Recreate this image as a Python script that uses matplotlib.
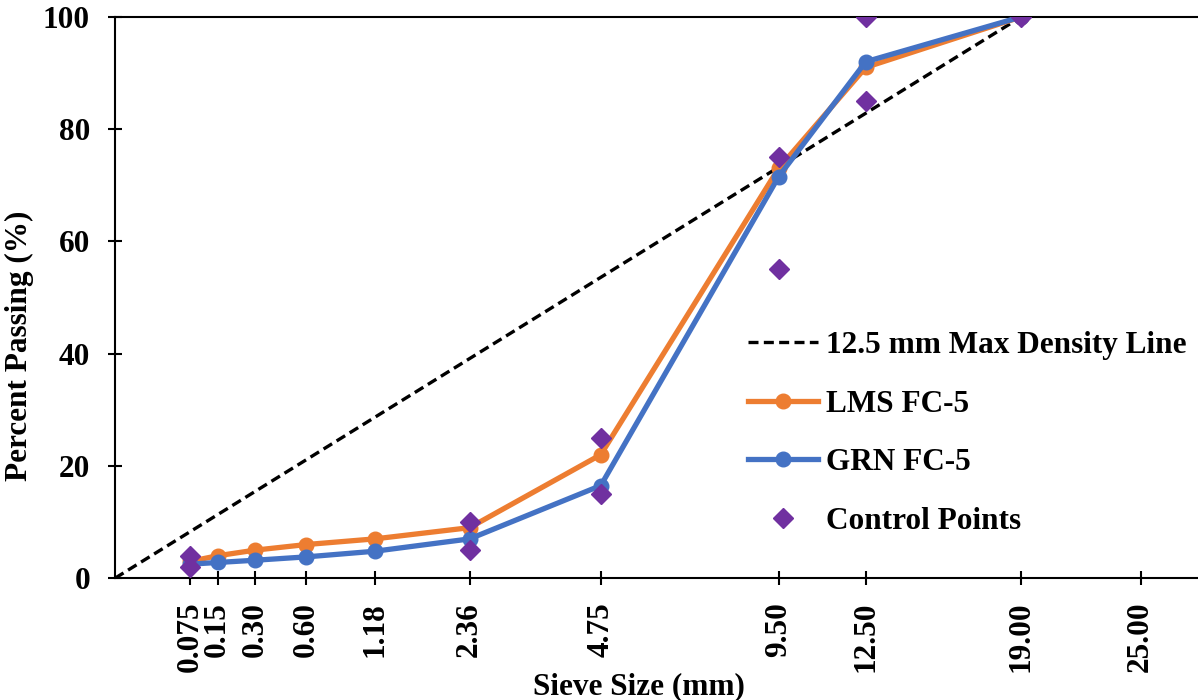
import numpy as np
import matplotlib.pyplot as plt

plt.rcParams['font.family'] = ['Liberation Serif', 'DejaVu Serif']
plt.rcParams['font.weight'] = 'bold'

# sieve sizes (mm) and gradation data
sieves = [0.075, 0.15, 0.30, 0.60, 1.18, 2.36, 4.75, 9.50, 12.50, 19.00]
tick_sieves = [0.075, 0.15, 0.30, 0.60, 1.18, 2.36, 4.75, 9.50, 12.50, 19.00, 25.00]
tick_labels = ["0.075", "0.15", "0.30", "0.60", "1.18", "2.36", "4.75",
               "9.50", "12.50", "19.00", "25.00"]

lms_fc5 = [3.0, 4.0, 5.0, 6.0, 7.0, 9.0, 22.0, 73.0, 91.0, 100.0]
grn_fc5 = [2.5, 2.8, 3.2, 3.8, 4.8, 7.0, 16.5, 71.5, 92.0, 100.0]

control_sieves = [0.075, 0.075, 2.36, 2.36, 4.75, 4.75, 9.50, 9.50, 12.50, 12.50, 19.00]
control_pass = [2, 4, 5, 10, 15, 25, 55, 75, 85, 100, 100]

max_density_sieves = [0.0, 19.00]
max_density_pass = [0, 100]

POWER = 0.45


def pw(v):
    return np.power(np.asarray(v, dtype=float), POWER)


fig = plt.figure(figsize=(11.98, 7.0), dpi=100)
ax = fig.add_axes([0.096, 0.174, 0.903, 0.802])

ax.plot(pw(max_density_sieves), max_density_pass, color='black', ls=(0, (3, 1.6)),
        lw=2.4, label='12.5 mm Max Density Line', zorder=2)
ax.plot(pw(sieves), lms_fc5, color='#ED7D31', lw=3.8, marker='o', ms=10.5,
        label='LMS FC-5', zorder=3)
ax.plot(pw(sieves), grn_fc5, color='#4472C4', lw=3.8, marker='o', ms=10.5,
        label='GRN FC-5', zorder=4)
ax.plot(pw(control_sieves), control_pass, ls='none', marker='D', ms=10.5,
        color='#7030A0', label='Control Points', zorder=5)

ax.set_xlim(0, 4.49)
ax.set_ylim(0, 100)
ax.set_xticks(pw(tick_sieves))
ax.set_xticklabels(tick_labels, rotation=90)
ax.set_yticks(range(0, 101, 20))

ax.spines['right'].set_visible(False)
for side in ['left', 'bottom', 'top']:
    ax.spines[side].set_linewidth(1.5)

ax.tick_params(axis='both', direction='inout', length=10, width=1.5, labelsize=22.5)
ax.tick_params(axis='x', pad=12)
ax.tick_params(axis='y', pad=13)

ax.set_xlabel('Sieve Size (mm)', fontsize=22.5, fontweight='bold')
ax.xaxis.set_label_coords(0.484, -0.168)
ax.set_ylabel('Percent Passing (%)', fontsize=22.5, fontweight='bold')
ax.yaxis.set_label_coords(-0.075, 0.414)

ax.legend(loc='center left', bbox_to_anchor=(0.585, 0.258), frameon=False,
          fontsize=22.5, labelspacing=0.945, handlelength=2.26, handletextpad=0.23,
          borderaxespad=0, borderpad=0)

fig.savefig('out.png', dpi=100)
